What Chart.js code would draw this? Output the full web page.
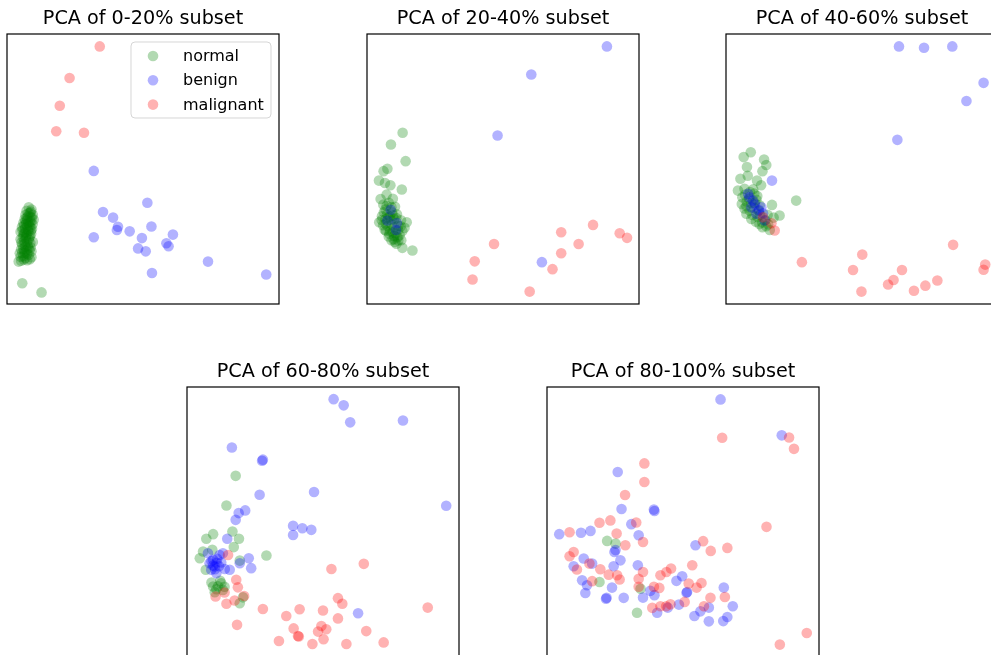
<!DOCTYPE html>
<html>
<head>
<meta charset="utf-8">
<script src="https://cdn.jsdelivr.net/npm/chart.js@4.4.1/dist/chart.umd.min.js"></script>
<style>
    html, body { margin: 0; padding: 0; background: #fff; overflow: hidden; width: 991px; height: 655px; }
    canvas { position: absolute; }
</style>
</head>
<body>
<canvas id="pca1" width="292" height="314" style="left:-3px;top:0px"></canvas>
<canvas id="pca2" width="292" height="314" style="left:357px;top:0px"></canvas>
<canvas id="pca3" width="292" height="314" style="left:716px;top:0px"></canvas>
<canvas id="pca4" width="292" height="314" style="left:177px;top:353px"></canvas>
<canvas id="pca5" width="292" height="314" style="left:537px;top:353px"></canvas>
<script>
// class names + panel titles
const classNames = ['normal', 'benign', 'malignant'];
const subsetTitles = ['PCA of 0-20% subset', 'PCA of 20-40% subset', 'PCA of 40-60% subset', 'PCA of 60-80% subset', 'PCA of 80-100% subset'];

// 0-20%
const normal0to20 = [[8.0,35.8],[9.0,35.0],[7.2,34.5],[8.5,33.8],[6.8,33.0],[7.8,32.5],[9.2,32.0],[6.5,31.5],[7.5,31.0],[8.4,30.5],[6.0,30.0],[7.0,29.6],[8.2,29.0],[5.5,28.5],[6.6,28.0],[7.7,27.6],[8.8,27.2],[5.0,26.8],[6.2,26.3],[7.3,25.8],[8.5,25.2],[5.8,24.8],[6.9,24.3],[8.0,23.8],[9.5,23.0],[5.3,22.8],[6.5,22.2],[7.6,21.6],[8.7,21.0],[6.0,20.5],[7.2,20.0],[9.0,19.5],[6.5,18.8],[8.0,18.2],[5.0,17.5],[6.8,17.0],[9.0,17.3],[5.2,16.0],[6.2,16.5],[5.6,7.7],[12.7,4.3],
    [8.8,34.2],[7.9,33.6],[9.5,33.0],[8.6,32.2],[7.3,32.0],[9.8,31.2],[8.9,30.6],[7.8,30.0],[6.9,30.8],[9.4,29.5],[8.6,28.4],[7.4,28.8],[6.3,29.2],[9.2,27.9],[7.9,26.9],[6.8,26.5],[5.7,27.3],[8.9,26.1],[7.1,25.2],[6.1,25.6],[8.2,24.6],[5.0,24.0],[6.3,23.4],[7.4,23.1],[8.6,22.6],[5.6,21.9],[6.8,21.3],[7.9,20.7],[5.2,20.3],[6.4,19.6],[8.3,19.9],[5.6,19.0],[7.4,18.6],[4.7,18.8],[6.0,17.7],[8.4,16.6],[4.3,15.7],[7.4,16.2]];
const benign0to20 = [[31.9,49.3],[51.6,37.5],[35.3,34.1],[39.0,32.0],[40.8,28.6],[40.4,27.4],[45.1,26.9],[53.1,28.7],[61.0,25.7],[31.9,24.7],[49.6,24.4],[48.2,20.6],[51.0,19.5],[58.6,22.5],[59.4,21.4],[73.9,15.7],[53.3,11.5],[95.3,10.9]];
const malignant0to20 = [[34.1,95.4],[23.0,83.7],[19.4,73.4],[18.1,64.0],[28.3,63.4]];

// 20-40%
const normal20to40 = [[13.1,63.4],[8.8,59.1],[14.2,52.9],[7.5,50.1],[6.1,49.2],[4.4,45.7],[6.6,44.8],[8.6,44.0],[12.8,42.4],[5.0,38.9],[7.2,40.5],[9.5,39.0],[6.0,36.8],[8.0,37.5],[10.3,36.0],[6.8,35.0],[9.2,34.0],[11.0,33.2],[5.5,32.5],[7.8,32.0],[10.0,31.5],[12.5,31.0],[4.5,30.3],[6.9,29.8],[9.0,29.5],[11.5,29.0],[14.6,30.3],[13.8,28.2],[6.5,27.5],[8.5,27.0],[10.5,26.2],[12.0,25.5],[8.0,25.0],[9.8,24.0],[11.5,23.5],[10.2,23.0],[13.0,20.8],[16.7,19.8],
    [6.2,34.0],[7.4,33.2],[8.4,32.4],[9.6,32.8],[5.4,31.1],[6.8,31.4],[8.9,31.0],[10.8,31.8],[5.9,29.2],[7.6,28.8],[9.9,28.4],[12.4,28.8],[7.0,27.1],[9.4,26.6],[11.4,27.3],[13.0,27.0],[8.2,26.0],[10.0,25.2],[11.2,24.7],[9.0,23.6],[12.6,23.6],[10.8,22.3],[7.2,36.4],[9.0,35.8]];
const benign20to40 = [[88.2,95.4],[60.4,85.0],[48.0,62.4],[64.3,15.5],[8.7,34.9],[7.5,30.9],[10.7,27.4],[11.0,30.0]];
const malignant20to40 = [[46.7,22.2],[39.6,15.8],[38.8,9.1],[59.8,4.6],[68.2,12.9],[71.4,18.8],[71.4,26.6],[77.8,22.2],[83.1,29.3],[92.9,26.2],[95.6,24.5]];

// 40-60%
const normal40to60 = [[9.1,56.2],[6.5,54.4],[14.0,53.5],[7.7,50.7],[14.8,51.5],[13.4,49.2],[5.3,46.4],[8.0,47.5],[11.4,45.7],[4.4,42.0],[6.8,42.7],[12.9,44.0],[10.0,42.5],[6.0,39.5],[8.5,39.0],[11.5,40.0],[25.8,38.3],[5.8,37.0],[7.5,36.2],[10.5,37.5],[16.9,36.7],[12.0,34.5],[19.7,32.8],[7.5,33.4],[17.5,32.0],[9.3,31.5],[11.0,30.5],[13.4,28.4],[16.1,27.4],[15.5,29.5],[12.5,33.0],[14.5,31.0],
    [7.0,40.5],[8.8,41.5],[10.4,40.9],[7.6,38.0],[9.3,37.4],[11.2,38.6],[6.8,35.4],[8.7,34.6],[10.4,35.6],[12.4,36.6],[9.7,33.0],[11.6,32.2],[13.3,30.2],[14.8,28.8],[12.3,29.6],[15.3,33.0]];
const benign40to60 = [[63.6,95.4],[72.8,94.9],[83.2,95.4],[94.7,81.9],[88.4,75.2],[63.0,60.8],[16.9,45.7],[8.1,40.8],[9.9,38.3],[9.3,35.8],[13.0,35.8],[14.2,30.9],[11.2,33.4],[10.6,36.9],[12.1,34.8],[8.6,39.5],[13.6,33.6]];
const malignant40to60 = [[27.9,15.5],[50.1,18.3],[46.7,12.6],[49.8,4.6],[59.6,7.2],[61.6,8.9],[64.7,12.6],[69.1,4.9],[73.3,6.8],[77.7,8.7],[83.5,21.9],[95.3,14.6],[94.7,12.7],[17.9,27.2],[13.6,32.1],[16.7,29.9]];

// 60-80%
const normal60to80 = [[17.9,67.1],[14.5,56.1],[29.2,37.6],[7.1,43.8],[9.6,45.5],[16.7,46.5],[19.1,43.8],[17.2,40.7],[5.9,39.1],[4.7,36.6],[9.3,39.7],[6.9,32.3],[19.4,35.7],[9.6,26.1],[12.6,27.3],[10.8,25.1],[13.2,24.8],[19.4,19.9],[20.6,22.1],[9.0,27.6],[11.4,26.2],[12.2,28.2],[10.2,24.0],[13.8,26.0]];
const benign60to80 = [[53.9,95.5],[57.6,93.2],[60.0,86.9],[79.4,87.6],[16.5,77.6],[27.6,72.7],[27.9,73.1],[26.7,60.1],[46.7,61.1],[95.3,56.0],[21.4,54.3],[19.0,53.3],[17.9,50.8],[39.0,48.6],[42.4,47.7],[45.7,47.1],[39.0,45.2],[14.8,43.8],[22.7,36.6],[23.6,32.9],[19.4,34.7],[15.7,32.3],[62.9,16.2],[8.3,34.7],[10.2,33.5],[12.0,37.8],[13.2,38.4],[10.8,31.0],[8.9,32.3],[9.6,36.0],[7.7,38.4],
    [9.0,35.5],[11.1,36.4],[12.6,35.0],[10.3,32.5],[11.8,33.6],[13.9,32.6],[9.6,33.9],[10.9,34.9]];
const malignant60to80 = [[15.1,37.8],[18.1,28.6],[18.7,25.8],[21.0,22.6],[10.5,22.4],[13.8,23.9],[14.5,19.7],[17.5,20.9],[27.9,17.8],[18.4,11.9],[53.1,32.6],[65.0,34.5],[55.5,21.8],[57.1,19.7],[50.0,17.2],[41.4,17.7],[36.5,15.2],[55.5,14.3],[39.2,10.6],[49.4,11.5],[51.2,10.3],[48.2,9.4],[40.8,7.8],[41.1,7.6],[33.8,5.9],[46.1,4.8],[50.2,6.6],[58.6,4.8],[65.9,9.6],[72.3,5.4],[88.5,18.3]];

// 80-100%
const normal80to100 = [[22.1,43.0],[25.2,42.0],[19.3,27.8],[34.4,25.3],[33.1,16.4]];
const benign80to100 = [[63.8,95.4],[86.3,82.1],[26.0,68.5],[27.4,54.8],[39.3,54.6],[39.5,54.1],[31.0,49.2],[33.7,45.1],[16.0,46.7],[12.5,46.0],[4.5,45.5],[24.8,38.9],[25.2,39.6],[54.6,41.4],[27.0,35.8],[13.5,36.5],[9.8,33.6],[16.6,34.6],[24.5,33.6],[33.4,34.0],[12.9,28.4],[14.7,26.6],[23.9,25.7],[14.1,23.7],[21.7,21.6],[21.9,21.9],[28.2,21.9],[35.3,22.0],[38.0,24.5],[39.5,22.9],[47.6,28.2],[49.7,29.9],[51.5,24.1],[51.3,23.8],[65.0,25.7],[68.3,18.8],[59.5,18.3],[56.4,16.9],[54.2,15.2],[59.5,13.2],[64.8,13.3],[66.3,14.8],[48.5,19.4],[40.5,16.4],[44.4,18.3]];
const malignant80to100 = [[64.4,81.2],[89.0,81.3],[90.8,77.1],[35.8,71.7],[35.8,64.8],[28.7,60.0],[23.3,50.6],[32.8,49.8],[19.3,49.7],[8.3,46.2],[25.6,45.7],[28.8,41.4],[35.3,42.6],[80.7,48.2],[57.4,42.9],[60.2,39.3],[66.3,40.4],[9.8,38.9],[8.3,37.3],[15.6,34.6],[19.6,32.5],[11.0,32.4],[22.7,30.5],[25.8,30.3],[26.7,28.7],[16.6,28.1],[35.3,31.5],[33.7,29.0],[33.7,26.0],[41.7,30.3],[43.9,31.5],[45.6,32.8],[53.4,34.0],[52.1,27.2],[56.8,27.4],[39.3,26.0],[41.3,25.6],[55.0,25.7],[60.1,21.9],[65.4,22.2],[38.7,18.2],[41.7,18.8],[45.4,19.5],[43.8,18.8],[50.6,20.4],[57.7,18.8],[95.5,8.9],[85.6,4.6]];

const panels = [
    [normal0to20, benign0to20, malignant0to20],
    [normal20to40, benign20to40, malignant20to40],
    [normal40to60, benign40to60, malignant40to60],
    [normal60to80, benign60to80, malignant60to80],
    [normal80to100, benign80to100, malignant80to100],
];

const classColors = ['rgba(0,128,0,0.3)', 'rgba(0,0,255,0.3)', 'rgba(255,0,0,0.3)'];
const fontFamily = "'DejaVu Sans', sans-serif";

// axes frame (all four spines)
const framePlugin = {
    id: 'frame',
    afterDatasetsDraw(chart) {
        const a = chart.chartArea;
        const ctx = chart.ctx;
        ctx.save();
        ctx.strokeStyle = '#000';
        ctx.lineWidth = 1.2;
        ctx.strokeRect(a.left, a.top, a.right - a.left, a.bottom - a.top);
        ctx.restore();
    }
};

// matplotlib-style legend inside the axes (upper right)
const innerLegend = {
    id: 'innerLegend',
    afterDraw(chart, args, opts) {
        if (!opts.display) return;
        const a = chart.chartArea;
        const ctx = chart.ctx;
        const w = 140, h = 76;
        const x = a.right - 8 - w, y = a.top + 8;
        ctx.save();
        ctx.beginPath();
        ctx.roundRect(x, y, w, h, 4);
        ctx.fillStyle = 'rgba(255,255,255,0.8)';
        ctx.fill();
        ctx.strokeStyle = 'rgba(204,204,204,0.8)';
        ctx.lineWidth = 1;
        ctx.stroke();
        ctx.font = '16px ' + fontFamily;
        ctx.textBaseline = 'middle';
        chart.data.datasets.forEach((ds, i) => {
            const cy = y + 14 + i * 24.3;
            ctx.beginPath();
            ctx.arc(x + 22, cy, 5.3, 0, Math.PI * 2);
            ctx.fillStyle = ds.backgroundColor;
            ctx.fill();
            ctx.fillStyle = '#000';
            ctx.fillText(ds.label, x + 52, cy + 1);
        });
        ctx.restore();
    }
};

panels.forEach((series, p) => {
    const datasets = series.map((pts, i) => ({
        label: classNames[i],
        data: pts.map(d => ({ x: d[0], y: d[1] })),
        backgroundColor: classColors[i],
        borderWidth: 0,
        pointRadius: 5.3,
        order: 3 - i,
    }));

    new Chart(document.getElementById('pca' + (p + 1)).getContext('2d'), {
        type: 'scatter',
        data: { datasets: datasets },
        options: {
            responsive: false,
            animation: false,
            events: [],
            layout: {
                padding: { left: 10, right: 10, top: 0, bottom: 10 }
            },
            plugins: {
                legend: { display: false },
                tooltip: { enabled: false },
                title: {
                    display: true,
                    text: subsetTitles[p],
                    color: '#000',
                    font: { family: fontFamily, size: 19.2, weight: 'normal' },
                    padding: { top: 7, bottom: 3.96 }
                },
                innerLegend: { display: p === 0 }
            },
            scales: {
                x: { type: 'linear', min: 0, max: 100, display: false },
                y: { type: 'linear', min: 0, max: 100, display: false }
            }
        },
        plugins: [framePlugin, innerLegend]
    });
});
</script>
</body>
</html>
